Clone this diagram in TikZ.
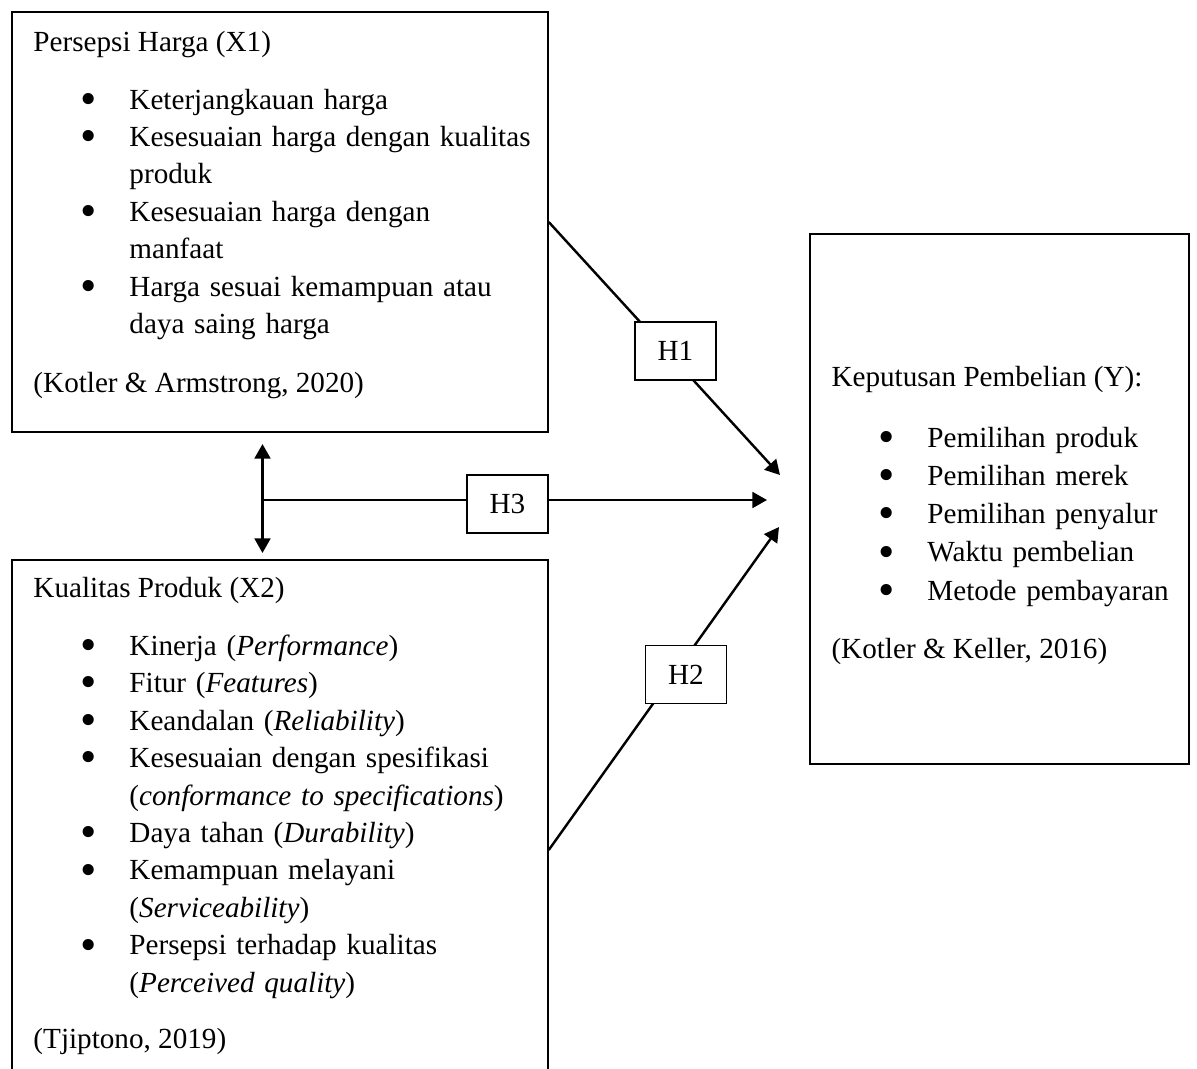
\documentclass[tikz,border=0pt]{standalone}
\usepackage{fontspec}
\setmainfont{Liberation Serif}
\usepackage{graphicx}
\usepackage{enumitem}
\usetikzlibrary{arrows.meta}
\newcommand{\pxu}{0.4115pt}
\newcommand{\bulatan}{\makebox[0pt]{\raisebox{-2.2pt}[0pt][0pt]{\scalebox{1.6}{\textbullet}}}}
\newlist{butir}{itemize}{1}
\setlist[butir]{label=\bulatan,nosep,leftmargin=39.5pt,labelwidth=0pt,labelsep=16.9pt}
\tikzset{
  kotak/.style={draw,line width=0.6pt,inner sep=0pt},
  judul/.style={anchor=base west,inner sep=0pt,font=\fontsize{12}{15.43}\selectfont},
  daftar/.style={anchor=base west,inner sep=0pt,align=left,font=\fontsize{12}{15.43}\selectfont},
  hipotesis/.style={draw,fill=white,line width=0.6pt,inner sep=0pt,minimum width=81*\pxu,minimum height=58*\pxu,font=\fontsize{12}{14}\selectfont},
  panah/.style={line width=1pt,-{Triangle[length=6pt,width=6.5pt]}},
  panahdua/.style={line width=1pt,{Triangle[length=6pt,width=6.5pt]}-{Triangle[length=6pt,width=6.5pt]}}
}
\begin{document}
\begin{tikzpicture}[x=\pxu,y=-\pxu]
\clip (0,0) rectangle (1197,1068);
% kotak variabel
\draw (280,222) node[kotak,minimum width=536*\pxu,minimum height=420*\pxu,name=X1] {};
\draw (280,850) node[kotak,minimum width=536*\pxu,minimum height=580*\pxu,name=X2] {};
\draw (999.5,499) node[kotak,minimum width=379*\pxu,minimum height=530*\pxu,name=Y] {};
% isi X1 (daftar: satu baris kosong di atas)
\node[judul] (judulX1) at (33,51) {Persepsi Harga (X1)};
\node[daftar,text width=510*\pxu] (daftarX1) at (33,71.5) {\begin{butir}
\item Keterjangkauan harga
\item Kesesuaian harga dengan kualitas\\ produk
\item Kesesuaian harga dengan\\ manfaat
\item Harga sesuai kemampuan atau\\ daya saing harga
\end{butir}};
\node[judul] (sumberX1) at (33,392) {(Kotler \& Armstrong, 2020)};
% isi X2
\node[judul] (judulX2) at (33,597) {Kualitas Produk (X2)};
\node[daftar,text width=510*\pxu] (daftarX2) at (33,617.5) {\begin{butir}
\item Kinerja (\textit{Performance})
\item Fitur (\textit{Features})
\item Keandalan (\textit{Reliability})
\item Kesesuaian dengan spesifikasi\\ (\textit{conformance to specifications})
\item Daya tahan (\textit{Durability})
\item Kemampuan melayani\\ (\textit{Serviceability})
\item Persepsi terhadap kualitas\\ (\textit{Perceived quality})
\end{butir}};
\node[judul] (sumberX2) at (33,1048) {(Tjiptono, 2019)};
% isi Y
\node[judul] (judulY) at (831,386) {Keputusan Pembelian (Y):};
\node[daftar,text width=350*\pxu,font=\fontsize{12}{15.74}\selectfont] (daftarY) at (831,408.75) {\begin{butir}
\item Pemilihan produk
\item Pemilihan merek
\item Pemilihan penyalur
\item Waktu pembelian
\item Metode pembayaran
\end{butir}};
\node[judul] (sumberY) at (831,658) {(Kotler \& Keller, 2016)};
% panah hipotesis
\coordinate (ujung1) at (780,475);
\coordinate (ujung2) at (779,527);
\coordinate (ujung3) at (767,500);
\coordinate (atas) at (262.5,444);
\coordinate (bawah) at (262.5,553);
\coordinate (tengah) at (262.5,500);
\draw[panah] (X1.east) -- (ujung1);
\draw[panah] (X2.east) -- (ujung2);
\draw[panah] (tengah) -- (ujung3);
\draw[panahdua] (atas) -- (bawah);
\node[hipotesis] (H1) at (675.5,351) {H1};
\node[hipotesis] (H2) at (686,674.5) {H2};
\node[hipotesis] (H3) at (507.5,504) {H3};
\end{tikzpicture}
\end{document}
